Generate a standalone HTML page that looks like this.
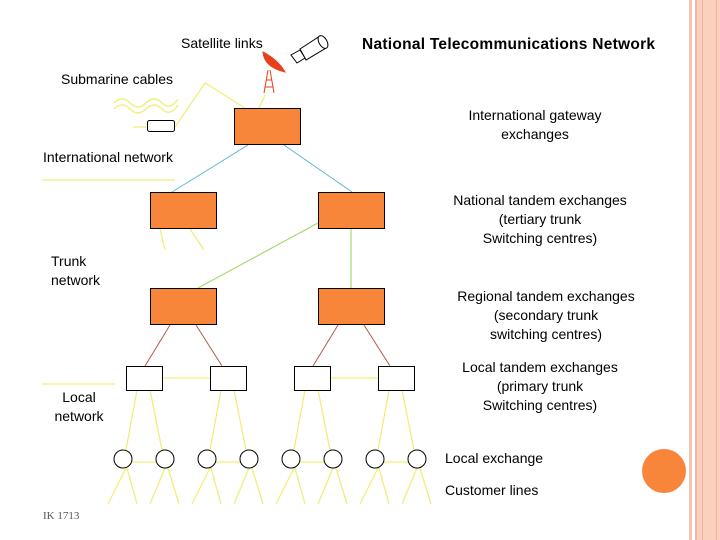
<!DOCTYPE html>
<html><head><meta charset="utf-8"><style>
body{margin:0;width:720px;height:540px;overflow:hidden;background:#fff;font-family:"Liberation Sans",sans-serif}
svg{position:absolute;left:0;top:0}
</style></head><body>
<svg width="720" height="540" viewBox="0 0 720 540" font-family="Liberation Sans, sans-serif" font-size="14" fill="#000">
<rect x="689" y="0" width="3" height="540" fill="#f3c5b0"/>
<rect x="695" y="0" width="25" height="540" fill="#fbd0bd"/>
<rect x="695" y="0" width="2" height="540" fill="#efb89f"/>
<rect x="702" y="0" width="1" height="540" fill="#f0b39a"/>
<rect x="716" y="0" width="1" height="540" fill="#f0b39a"/>
<circle cx="664" cy="471" r="22" fill="#f7863b"/>

<g stroke="#f2ee7a" stroke-width="1.3" fill="none">
<polyline points="245,108 205,83 175,127"/>
<line x1="259" y1="108" x2="265" y2="95"/>
<line x1="133" y1="127" x2="147" y2="127"/>
<path d="M114,103 q8,-8 16,0 t16,0 t16,0 t16,-4"/>
<path d="M114,109 q8,-8 16,0 t16,0 t16,0 t16,-4"/>
<line x1="42" y1="180" x2="175" y2="180"/>
<line x1="42" y1="384" x2="115" y2="384"/>
<line x1="160" y1="229" x2="165" y2="250"/>
<line x1="190" y1="229" x2="204" y2="250"/>
<line x1="163" y1="378" x2="210" y2="378"/>
<line x1="331" y1="378" x2="378" y2="378"/>
</g>
<g stroke="#f2ee7a" stroke-width="1.3">
<line x1="137" y1="390" x2="126" y2="450"/><line x1="150" y1="390" x2="162" y2="450"/>
<line x1="221" y1="390" x2="210" y2="450"/><line x1="234" y1="390" x2="246" y2="450"/>
<line x1="305" y1="390" x2="294" y2="450"/><line x1="318" y1="390" x2="330" y2="450"/>
<line x1="389" y1="390" x2="378" y2="450"/><line x1="402" y1="390" x2="414" y2="450"/>
<line x1="132" y1="462" x2="156" y2="462"/><line x1="216" y1="462" x2="240" y2="462"/>
<line x1="300" y1="462" x2="324" y2="462"/><line x1="384" y1="462" x2="408" y2="462"/>
<line x1="126" y1="468" x2="108" y2="504"/><line x1="127" y1="468" x2="137" y2="504"/>
<line x1="165" y1="468" x2="150" y2="504"/><line x1="168" y1="468" x2="179" y2="504"/>
<line x1="210" y1="468" x2="192" y2="504"/><line x1="211" y1="468" x2="221" y2="504"/>
<line x1="249" y1="468" x2="234" y2="504"/><line x1="252" y1="468" x2="263" y2="504"/>
<line x1="294" y1="468" x2="276" y2="504"/><line x1="295" y1="468" x2="305" y2="504"/>
<line x1="333" y1="468" x2="318" y2="504"/><line x1="336" y1="468" x2="347" y2="504"/>
<line x1="378" y1="468" x2="360" y2="504"/><line x1="379" y1="468" x2="389" y2="504"/>
<line x1="417" y1="468" x2="402" y2="504"/><line x1="420" y1="468" x2="431" y2="504"/>
</g>
<g stroke="#5bb5d8" stroke-width="1">
<line x1="248" y1="145" x2="172" y2="192"/><line x1="284" y1="145" x2="352" y2="192"/>
</g>
<g stroke="#a6d96a" stroke-width="1.2">
<line x1="351" y1="229" x2="351" y2="288"/><line x1="318" y1="223" x2="198" y2="288"/>
</g>
<g stroke="#b05a4a" stroke-width="1">
<line x1="170" y1="325" x2="145" y2="366"/><line x1="196" y1="325" x2="222" y2="366"/>
<line x1="338" y1="325" x2="313" y2="366"/><line x1="364" y1="325" x2="390" y2="366"/>
</g>
<g fill="#f7863b" stroke="#000" stroke-width="1">
<rect x="234.5" y="108.5" width="66" height="36"/>
<rect x="150.5" y="192.5" width="66" height="36"/>
<rect x="318.5" y="192.5" width="66" height="36"/>
<rect x="150.5" y="288.5" width="66" height="36"/>
<rect x="318.5" y="288.5" width="66" height="36"/>
</g>
<g fill="#fff" stroke="#000" stroke-width="1">
<rect x="126.5" y="366.5" width="36" height="24"/>
<rect x="210.5" y="366.5" width="36" height="24"/>
<rect x="294.5" y="366.5" width="36" height="24"/>
<rect x="378.5" y="366.5" width="36" height="24"/>
<rect x="147.5" y="120.5" width="27" height="11" rx="2"/>
<circle cx="123" cy="459" r="9"/><circle cx="165" cy="459" r="9"/>
<circle cx="207" cy="459" r="9"/><circle cx="249" cy="459" r="9"/>
<circle cx="291" cy="459" r="9"/><circle cx="333" cy="459" r="9"/>
<circle cx="375" cy="459" r="9"/><circle cx="417" cy="459" r="9"/>
</g>
<path d="M263,52 Q264,67 285,72 Q278,60 263,52 Z" fill="#e8401c" stroke="#e8401c"/>
<g stroke="#e8401c" fill="none" stroke-width="1">
<line x1="268" y1="70" x2="264" y2="93"/><line x1="270" y1="70" x2="274" y2="93"/>
<line x1="266" y1="80" x2="272" y2="80"/><line x1="265" y1="87" x2="273" y2="87"/>
</g>
<g stroke="#000" fill="#fff" stroke-width="1">
<path d="M300,49 L320,36 L326,48 L306,60 Z"/>
<ellipse cx="323" cy="42" rx="4" ry="7" transform="rotate(-30 323 42)"/>
<path d="M291,55 L300,50 L305,58 L297,63 Z"/>
</g>
<text x="181" y="48">Satellite links</text>
<text x="362" y="49" font-weight="bold" font-size="15.5" textLength="293">National Telecommunications Network</text>
<text x="61" y="84">Submarine cables</text>
<text x="43" y="162">International network</text>
<text x="51" y="266">Trunk</text><text x="51" y="285">network</text>
<text x="79" y="402" text-anchor="middle">Local</text><text x="79" y="421" text-anchor="middle">network</text>
<g text-anchor="middle">
<text x="535" y="120">International gateway</text><text x="535" y="139">exchanges</text>
<text x="540" y="205">National tandem exchanges</text><text x="540" y="224">(tertiary trunk</text><text x="540" y="243">Switching centres)</text>
<text x="546" y="301">Regional  tandem exchanges</text><text x="546" y="320">(secondary trunk</text><text x="546" y="339">switching centres)</text>
<text x="540" y="372">Local tandem exchanges</text><text x="540" y="391">(primary trunk</text><text x="540" y="410">Switching centres)</text>
</g>
<text x="445" y="463">Local exchange</text>
<text x="445" y="495">Customer lines</text>
<text x="43" y="519" font-family="Liberation Serif, serif" font-size="11" fill="#555">IK 1713</text>
</svg>
</body></html>
